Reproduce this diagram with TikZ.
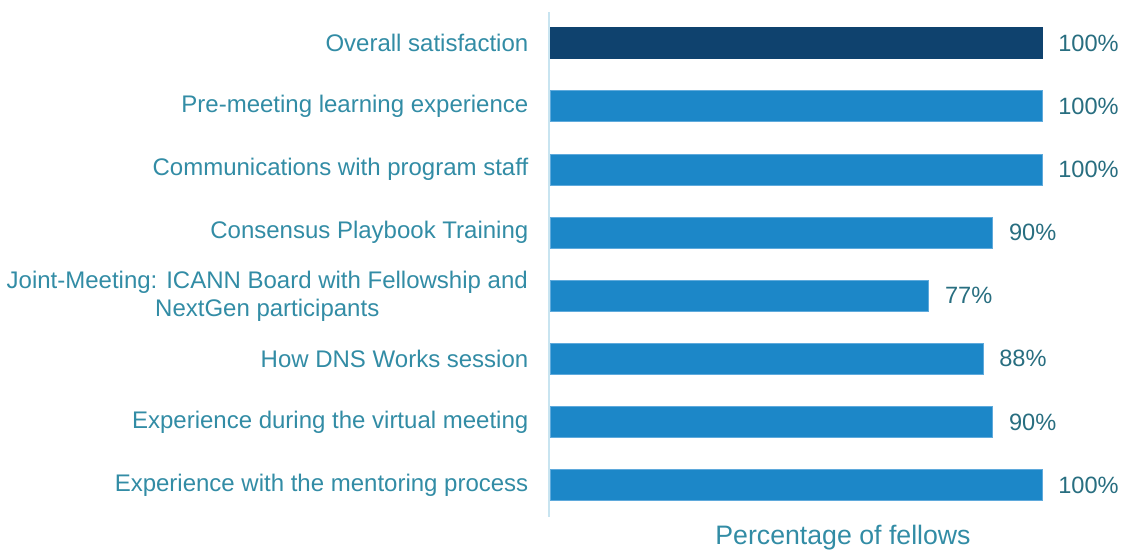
\documentclass[tikz,border=0pt]{standalone}
\usepackage{fontspec}
\setmainfont{Liberation Sans}
\usepackage{xcolor}
\usepackage{tikz}
\usetikzlibrary{positioning}
\definecolor{darkbar}{RGB}{15,66,110}
\definecolor{bluebar}{RGB}{28,135,200}
\definecolor{barline}{RGB}{95,170,220}
\definecolor{labelteal}{RGB}{50,140,165}
\definecolor{valueteal}{RGB}{40,110,128}
\definecolor{axisblue}{RGB}{200,228,240}
\tikzset{
    bar/.style={rectangle, anchor=west, minimum height=31pt, inner sep=0pt, draw=barline, line width=0.6pt, fill=bluebar},
    category/.style={inner sep=0pt, align=center, text=labelteal, font=\fontsize{24}{28}\selectfont},
    value/.style={inner sep=0pt, text=valueteal, font=\fontsize{23.6}{28}\selectfont},
    axisline/.style={draw=axisblue, line width=1.2pt}
}

\begin{document}
\begin{tikzpicture}[x=1pt, y=-1pt]
    \useasboundingbox (0,0) rectangle (1121,550);

    % Axis
    \coordinate (axistop) at (549,12);
    \coordinate (axisbot) at (549,517);
    \draw [axisline] (axistop) -- (axisbot);

    % Bars
    \node (overall) [bar, fill=darkbar, draw=darkbar, minimum width=492pt] at (549.5,43) {};
    \node (premeet) [bar, minimum width=492pt] at (549.5,106.1) {};
    \node (comms) [bar, minimum width=492pt] at (549.5,169.3) {};
    \node (playbook) [bar, minimum width=442.8pt] at (549.5,232.4) {};
    \node (joint) [bar, minimum width=378.8pt] at (549.5,295.6) {};
    \node (dns) [bar, minimum width=433pt] at (549.5,358.7) {};
    \node (virtual) [bar, minimum width=442.8pt] at (549.5,421.9) {};
    \node (mentor) [bar, minimum width=492pt] at (549.5,485) {};

    % Categories
    \node (overalllab) [category, left=21pt of overall] {Overall satisfaction};
    \node (premeetlab) [category, left=21pt of premeet] {Pre-meeting learning experience};
    \node (commslab) [category, left=21pt of comms] {Communications with program staff};
    \node (playbooklab) [category, left=21pt of playbook] {Consensus Playbook Training};
    \node (jointlab) [category, anchor=east] at (528,296) {Joint-Meeting: ICANN Board with Fellowship and\\NextGen participants};
    \node (dnslab) [category, left=21pt of dns] {How DNS Works session};
    \node (virtuallab) [category, left=21pt of virtual] {Experience during the virtual meeting};
    \node (mentorlab) [category, left=21pt of mentor] {Experience with the mentoring process};

    % Values
    \node (overallval) [value, right=16pt of overall] {100\%};
    \node (premeetval) [value, right=16pt of premeet] {100\%};
    \node (commsval) [value, right=16pt of comms] {100\%};
    \node (playbookval) [value, right=16pt of playbook] {90\%};
    \node (jointval) [value, right=16pt of joint] {77\%};
    \node (dnsval) [value, right=16pt of dns] {88\%};
    \node (virtualval) [value, right=16pt of virtual] {90\%};
    \node (mentorval) [value, right=16pt of mentor] {100\%};

    % Axis title
    \node (xtitle) [text=labelteal, font=\fontsize{26.7}{30}\selectfont] at (843,538) {Percentage of fellows};
\end{tikzpicture}
\end{document}
